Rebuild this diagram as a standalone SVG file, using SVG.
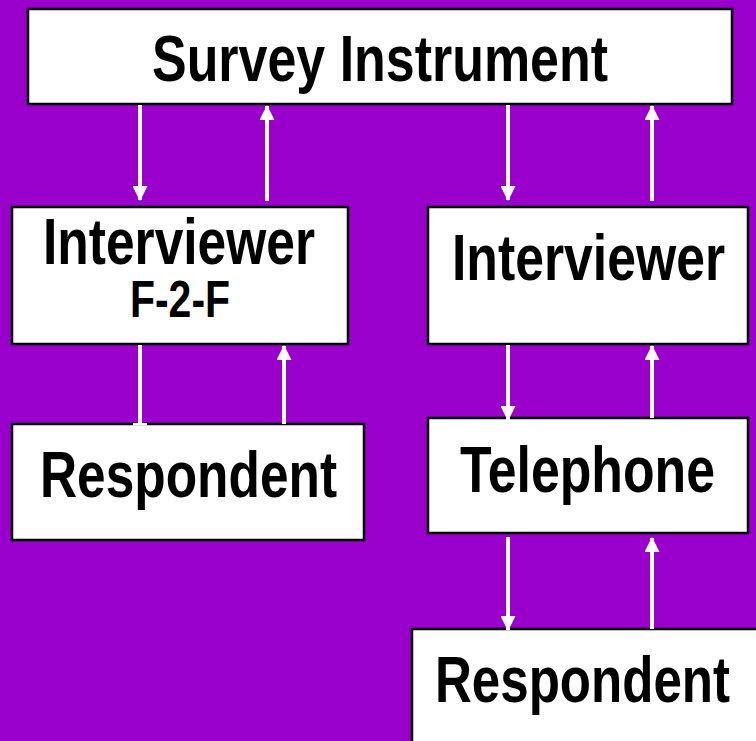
<svg xmlns="http://www.w3.org/2000/svg" width="756" height="741" viewBox="0 0 756 741">
  <style>
    .box { fill: #ffffff; stroke: #000000; stroke-width: 2.5; }
    .lbl { font-family: "Liberation Sans Narrow", "Liberation Sans", Arial, sans-serif; font-weight: bold; fill: #000000; text-anchor: middle; }
    .big { font-size: 64px; }
    .small { font-size: 51px; }
    .wire { stroke: #ffffff; stroke-width: 4; fill: none; }
    .arrow { marker-end: url(#head); }
  </style>
  <defs>
    <marker id="head" viewBox="0 0 15 15" refX="14" refY="7.5" markerWidth="15" markerHeight="15" markerUnits="userSpaceOnUse" orient="auto">
      <path d="M0,0 L15,7.5 L0,15 Z" fill="#ffffff"/>
    </marker>
  </defs>

  <rect x="0" y="0" width="756" height="741" fill="#9900cc"/>

  <g id="survey-instrument">
    <rect class="box" x="28" y="9" width="704" height="95"/>
    <text class="lbl big" x="380" y="81" font-size="65" textLength="456" lengthAdjust="spacingAndGlyphs">Survey Instrument</text>
  </g>

  <g id="interviewer-f2f">
    <rect class="box" x="12" y="207" width="336" height="137"/>
    <text class="lbl big" x="179" y="264" textLength="272" lengthAdjust="spacingAndGlyphs">Interviewer</text>
    <text class="lbl small" x="180" y="317" textLength="100" lengthAdjust="spacingAndGlyphs">F-2-F</text>
  </g>

  <g id="interviewer-phone">
    <rect class="box" x="428" y="207" width="320" height="137"/>
    <text class="lbl big" x="588.5" y="280" textLength="273" lengthAdjust="spacingAndGlyphs">Interviewer</text>
  </g>

  <g id="respondent-f2f">
    <rect class="box" x="12" y="424" width="352" height="116"/>
    <text class="lbl big" x="188.5" y="497" textLength="297" lengthAdjust="spacingAndGlyphs">Respondent</text>
  </g>

  <g id="telephone">
    <rect class="box" x="428" y="418" width="320" height="115"/>
    <text class="lbl big" x="587.5" y="492" textLength="255" lengthAdjust="spacingAndGlyphs">Telephone</text>
  </g>

  <g id="respondent-phone">
    <rect class="box" x="412" y="629" width="360" height="130"/>
    <text class="lbl big" x="582.5" y="702" textLength="295" lengthAdjust="spacingAndGlyphs">Respondent</text>
  </g>

  <g id="connectors">
    <line class="wire arrow" x1="140" y1="105" x2="140" y2="200"/>
    <line class="wire arrow" x1="267" y1="201" x2="267" y2="106"/>
    <line class="wire arrow" x1="508" y1="105" x2="508" y2="200"/>
    <line class="wire arrow" x1="652" y1="201" x2="652" y2="106"/>

    <line class="wire" x1="140" y1="345" x2="140" y2="424"/>
    <rect x="133" y="423" width="14" height="2.5" fill="#ffffff"/>
    <line class="wire arrow" x1="284" y1="424" x2="284" y2="346"/>

    <line class="wire arrow" x1="508" y1="345" x2="508" y2="420"/>
    <line class="wire arrow" x1="652" y1="418" x2="652" y2="346"/>

    <line class="wire arrow" x1="508" y1="537" x2="508" y2="630"/>
    <line class="wire arrow" x1="652" y1="629" x2="652" y2="538"/>
  </g>
</svg>
